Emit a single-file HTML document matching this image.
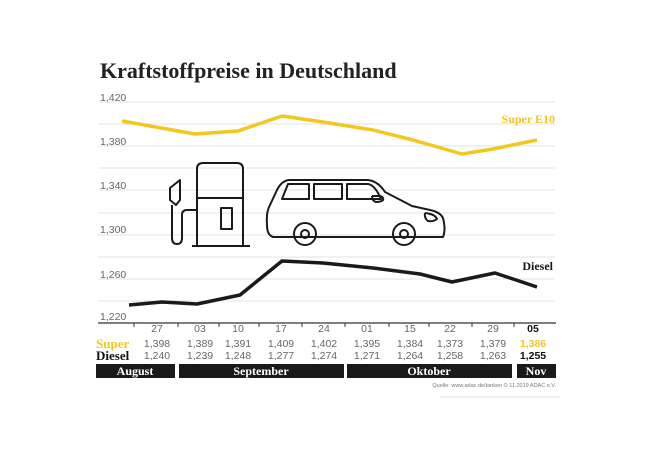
<!DOCTYPE html>
<html><head><meta charset="utf-8"><style>
body{margin:0;background:#fff;}
svg{display:block}
</style></head><body>
<svg width="650" height="450" viewBox="0 0 650 450" xmlns="http://www.w3.org/2000/svg" font-family="Liberation Sans, sans-serif">
<text x="100" y="78" font-family="Liberation Serif, serif" font-weight="bold" font-size="22" fill="#222">Kraftstoffpreise in Deutschland</text>
<g stroke="#e3e3e3" stroke-width="1">
<line x1="98" x2="555" y1="102" y2="102"/><line x1="98" x2="555" y1="124" y2="124"/>
<line x1="98" x2="555" y1="146" y2="146"/><line x1="98" x2="555" y1="168" y2="168"/>
<line x1="98" x2="555" y1="190" y2="190"/><line x1="98" x2="555" y1="213" y2="213"/>
<line x1="98" x2="555" y1="235" y2="235"/><line x1="98" x2="555" y1="257" y2="257"/>
<line x1="98" x2="555" y1="279" y2="279"/><line x1="98" x2="555" y1="301" y2="301"/>
</g>
<g font-size="10.5" fill="#666">
<text x="100" y="101">1,420</text><text x="100" y="145">1,380</text>
<text x="100" y="189">1,340</text><text x="100" y="233">1,300</text>
<text x="100" y="278">1,260</text><text x="100" y="320">1,220</text>
</g>
<line x1="98" x2="556" y1="323" y2="323" stroke="#333" stroke-width="1.3"/>
<g stroke="#333" stroke-width="1">
<line x1="134" x2="134" y1="323" y2="327"/><line x1="178" x2="178" y1="323" y2="327"/>
<line x1="219" x2="219" y1="323" y2="327"/><line x1="259" x2="259" y1="323" y2="327"/>
<line x1="302" x2="302" y1="323" y2="327"/><line x1="345" x2="345" y1="323" y2="327"/>
<line x1="389" x2="389" y1="323" y2="327"/><line x1="429" x2="429" y1="323" y2="327"/>
<line x1="472" x2="472" y1="323" y2="327"/><line x1="514" x2="514" y1="323" y2="327"/>
</g>
<polyline fill="none" stroke="#f2c81e" stroke-width="3.5" stroke-linejoin="round" points="122,121 195,134 238,131 282,116 323,122 373,130 413,140 462,154 493,149 537,140"/>
<polyline fill="none" stroke="#1a1a1a" stroke-width="3.5" stroke-linejoin="round" points="129,305 162,302 197,304 240,295 282,261 323,263 373,268 420,274 452,282 495,273 537,287"/>
<text x="555" y="123" text-anchor="end" font-family="Liberation Serif, serif" font-weight="bold" font-size="12" fill="#f2c81e">Super E10</text>
<text x="553" y="270" text-anchor="end" font-family="Liberation Serif, serif" font-weight="bold" font-size="12" fill="#1a1a1a">Diesel</text>
<g fill="none" stroke="#1a1a1a" stroke-width="2" stroke-linejoin="round">
<path d="M197,246 V169 Q197,163 203,163 H237 Q243,163 243,169 V246"/>
<line x1="192" x2="250" y1="246" y2="246"/>
<line x1="197" x2="243" y1="198" y2="198"/>
<rect x="221" y="208" width="11" height="21"/>
<path d="M180,180 L170,188 V200 L176,205 L180,200 Z"/>
<path d="M172,205 V238 Q172,244 177,244 Q182,244 182,238 V215 Q182,210 187,210 H197"/>
<path d="M273,237 H292 M318,237 H391 M417,237 H443 Q446,230 443,218 Q440,212 430,210 L412,206 L385,192 Q378,181 368,180 H290 Q282,180 277,190 L270,205 Q266,212 267,225 Q267,235 273,237 Z"/>
<path d="M282,199 L288,184 H309 V199 Z"/><rect x="314" y="184" width="28" height="15"/>
<path d="M347,184 H368 Q375,185 381,199 H347 Z"/>
<path d="M372,196 H380 Q384,197 383,200 Q381,202 376,202 Q372,201 372,196"/>
<path d="M425,213 Q435,214 437,219 Q433,222 428,221 Q424,218 425,213"/>
<circle cx="305" cy="234" r="11"/><circle cx="305" cy="234" r="4"/>
<circle cx="404" cy="234" r="11"/><circle cx="404" cy="234" r="4"/>
</g>
<g font-size="10.5" fill="#666" text-anchor="middle">
<text x="157" y="332">27</text><text x="200" y="332">03</text><text x="238" y="332">10</text>
<text x="281" y="332">17</text><text x="324" y="332">24</text><text x="367" y="332">01</text>
<text x="410" y="332">15</text><text x="450" y="332">22</text><text x="493" y="332">29</text>
<text x="533" y="332" font-weight="bold" fill="#111">05</text>
</g>
<g font-size="10.5" fill="#666" text-anchor="middle">
<text x="157" y="347">1,398</text><text x="200" y="347">1,389</text><text x="238" y="347">1,391</text>
<text x="281" y="347">1,409</text><text x="324" y="347">1,402</text><text x="367" y="347">1,395</text>
<text x="410" y="347">1,384</text><text x="450" y="347">1,373</text><text x="493" y="347">1,379</text>
<text x="533" y="347" font-weight="bold" fill="#f2c81e">1,386</text>
<text x="157" y="359">1,240</text><text x="200" y="359">1,239</text><text x="238" y="359">1,248</text>
<text x="281" y="359">1,277</text><text x="324" y="359">1,274</text><text x="367" y="359">1,271</text>
<text x="410" y="359">1,264</text><text x="450" y="359">1,258</text><text x="493" y="359">1,263</text>
<text x="533" y="359" font-weight="bold" fill="#111">1,255</text>
</g>
<text x="96" y="348" font-family="Liberation Serif, serif" font-weight="bold" font-size="13" fill="#f2c81e">Super</text>
<text x="96" y="360" font-family="Liberation Serif, serif" font-weight="bold" font-size="13" fill="#111">Diesel</text>
<g fill="#1a1a1a">
<rect x="96" y="364" width="79" height="14"/><rect x="179" y="364" width="165" height="14"/>
<rect x="347" y="364" width="165" height="14"/><rect x="517" y="364" width="39" height="14"/>
</g>
<g font-family="Liberation Serif, serif" font-weight="bold" font-size="12" fill="#fff" text-anchor="middle">
<text x="135" y="375">August</text><text x="261" y="375">September</text>
<text x="429" y="375">Oktober</text><text x="536" y="375">Nov</text>
</g>
<text x="556" y="387" text-anchor="end" font-size="5.5" fill="#777">Quelle: www.adac.de/tanken   © 11.2019  ADAC e.V.</text>
<line x1="440" x2="560" y1="397" y2="397" stroke="#ddd"/>
</svg>
</body></html>
